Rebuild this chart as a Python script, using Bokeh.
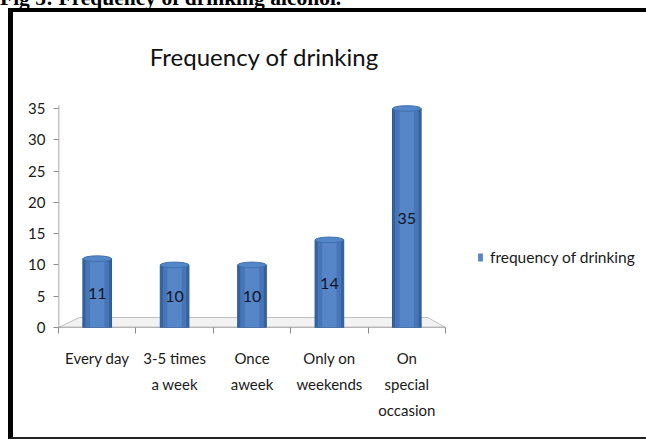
from bokeh.plotting import figure
from bokeh.models import (FixedTicker, Label, Legend, LegendItem, ColumnDataSource,
                          Range1d, Div)
from bokeh.core.properties import value
from bokeh.embed import file_html
from bokeh.resources import INLINE

# Survey data: how often respondents drink
categories = ["Every day", "3-5 times\na week", "Once\naweek", "Only on\nweekends", "On\nspecial\noccasion"]
counts = [11, 10, 10, 14, 35]
y_ticks = [0, 5, 10, 15, 20, 25, 30, 35]
series_name = "frequency of drinking"
chart_title = "Frequency of drinking"
caption = "Fig 5: Frequency of drinking alcohol."

W, H = 646, 440
FONT = "Lato"
n = len(categories)
xs = [i + 0.5 for i in range(n)]

# plot area geometry (pixels): axes span 58..445 horizontally, 327..108 vertically
LEFT, AXIS_RIGHT, BOTTOM, TOP35 = 58, 445, 327, 108
px_per_cat = (AXIS_RIGHT - LEFT) / n
px_per_unit = (BOTTOM - TOP35) / y_ticks[-1]
x_end = (W - LEFT) / px_per_cat
y_end = BOTTOM / px_per_unit

src = ColumnDataSource(dict(x=xs, top=counts, mid=[c / 2 for c in counts],
                            lbl=[str(c) for c in counts]))

p = figure(width=W, height=H, output_backend="svg", toolbar_location=None,
           x_range=Range1d(0, x_end), y_range=Range1d(0, y_end),
           min_border_left=LEFT, min_border_right=0, min_border_top=0,
           min_border_bottom=H - BOTTOM)
p.background_fill_color = None
p.border_fill_color = None
p.outline_line_color = None
p.grid.visible = False

# 3D floor under the bars
p.patch(x=[0, 0.27, n - 0.23, n], y=[0, 1.6, 1.6, 0], fill_color="#F2F2F2",
        line_color="#BFBFBF", line_width=1)

# axis lines limited to the data extent
p.segment(x0=[0, 0], y0=[0, 0], x1=[0, n], y1=[y_ticks[-1] + 0.5, 0],
          line_color="#8C8C8C", line_width=1.5)

# cylinder-like bars: dark body, lighter inner strips, top and bottom caps
bw = 0.37
p.ellipse(x="x", y=0, width=bw, height=0.9, source=src,
          fill_color="#3A6AA8", line_color="#2E5A94", line_width=1)
p.vbar(x="x", top="top", bottom=0, width=bw, source=src,
       fill_color="#33629E", line_color="#2E5A94", line_width=1)
p.vbar(x="x", top="top", bottom=0, width=bw * 0.82, source=src,
       fill_color="#4676B8", line_color=None)
mid_strip = p.vbar(x="x", top="top", bottom=0, width=bw * 0.5, source=src,
                   fill_color="#5686C8", line_color=None)
p.ellipse(x="x", y="top", width=bw, height=0.9, source=src,
          fill_color="#5487C8", line_color="#3F6FAE", line_width=1)

p.text(x="x", y="mid", text="lbl", source=src, text_align="center",
       text_baseline="middle", text_font=value(FONT), text_font_size="16px",
       text_color="#0C1428")

# axes
ya = p.yaxis[0]
ya.ticker = FixedTicker(ticks=y_ticks)
ya.axis_line_color = None
ya.major_tick_line_color = "#8C8C8C"
ya.major_tick_out = 5
ya.major_tick_in = 0
ya.minor_tick_line_color = None
ya.major_label_text_font = FONT
ya.major_label_text_font_size = "15px"
ya.major_label_text_color = "#1A1A1A"
ya.major_label_standoff = 8

xa = p.xaxis[0]
xa.ticker = FixedTicker(ticks=xs, minor_ticks=list(range(n + 1)))
xa.major_label_overrides = {x: c for x, c in zip(xs, categories)}
xa.axis_line_color = None
xa.major_tick_line_color = None
xa.minor_tick_line_color = "#8C8C8C"
xa.minor_tick_out = 6
xa.minor_tick_in = 0
xa.major_label_text_font = FONT
xa.major_label_text_font_size = "15px"
xa.major_label_text_color = "#1A1A1A"
xa.major_label_text_line_height = 1.45
xa.major_label_standoff = 15

# chart title
p.add_layout(Label(x=206, y=271, x_units="screen", y_units="screen",
                   text=chart_title, text_align="center", text_baseline="alphabetic",
                   text_font=FONT, text_font_size="24px", text_color="#111111"))

legend = Legend(items=[LegendItem(label=series_name, renderers=[mid_strip])],
                location=(419, 61), border_line_color=None, background_fill_alpha=0,
                padding=0, margin=0, glyph_width=6, glyph_height=10, label_height=16,
                label_standoff=7, label_text_font=FONT, label_text_font_size="15.5px",
                label_text_color="#1A1A1A")
p.add_layout(legend, "center")

# figure caption, running off the top of the page
cap = Div(text=caption, width=646, height=24, margin=0,
          styles={"position": "absolute", "left": "0px", "top": "-12px",
                  "font-family": "Liberation Serif", "font-weight": "bold",
                  "font-size": "21.5px", "line-height": "21.5px", "color": "#000",
                  "white-space": "nowrap", "z-index": "10"})

# black frame around the chart
frame_box = Div(text="", width=700, height=431, margin=0,
                styles={"position": "absolute", "left": "8px", "top": "8px",
                        "border-left": "5px solid #000", "border-top": "4px solid #000",
                        "border-bottom": "2px solid #222", "box-sizing": "border-box",
                        "pointer-events": "none", "z-index": "9"})

open("out.html", "w").write(file_html([p, cap, frame_box], INLINE))
